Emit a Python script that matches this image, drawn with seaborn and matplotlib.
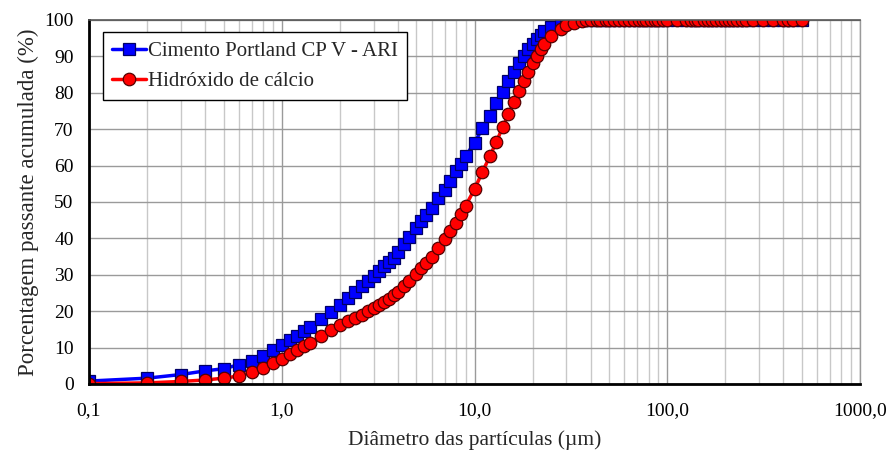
import numpy as np
import pandas as pd
import matplotlib
matplotlib.use("Agg")
import matplotlib.pyplot as plt
from matplotlib.ticker import FixedLocator, FixedFormatter, LogLocator, NullFormatter
import seaborn as sns

# ---- data ----
sizes = [0.1, 0.2, 0.3, 0.4, 0.5, 0.6, 0.7, 0.8, 0.9, 1.0,
         1.1, 1.2, 1.3, 1.4, 1.6, 1.8, 2.0, 2.2, 2.4, 2.6, 2.8, 3.0,
         3.2, 3.4, 3.6, 3.8, 4.0, 4.3, 4.6, 5.0, 5.3, 5.6, 6.0, 6.5,
         7.0, 7.5, 8.0, 8.5, 9.0, 10, 11, 12, 13, 14, 15, 16, 17, 18,
         19, 20, 21, 22, 23, 25, 28, 30, 33, 36, 38, 40, 43, 45, 48,
         50, 53, 56, 60, 63, 67, 71, 75, 78, 82, 86, 90, 95, 100, 112,
         125, 132, 140, 145, 155, 162, 170, 180, 190, 200, 210, 220,
         230, 243, 255, 280, 315, 355, 400, 425, 450, 500]

cimento = [0.8, 1.6, 2.6, 3.6, 4.2, 5.3, 6.3, 7.8, 9.3, 10.7,
           12.0, 13.3, 14.6, 15.7, 17.9, 19.7, 21.8, 23.5, 25.2, 26.8, 28.2, 29.7,
           31.0, 32.3, 33.6, 34.6, 36.2, 38.4, 40.5, 42.8, 44.8, 46.3, 48.4, 51.0,
           53.3, 55.9, 58.5, 60.5, 62.6, 66.3, 70.2, 73.7, 77.2, 80.3, 83.2, 85.8, 88.1, 90.2,
           91.9, 93.3, 94.7, 95.9, 97.0, 98.2, 99.5, 99.8, 100, 100, 100, 100, 100, 100, 100,
           100, 100, 100, 100, 100, 100, 100, 100, 100, 100, 100, 100, 100, 100, 100,
           100, 100, 100, 100, 100, 100, 100, 100, 100, 100, 100, 100,
           100, 100, 100, 100, 100, 100, 100, 100, 100, 100]

hidroxido = [0.1, 0.3, 0.7, 1.1, 1.6, 2.2, 3.2, 4.5, 5.8, 7.0,
             8.2, 9.3, 10.3, 11.3, 13.2, 14.7, 16.2, 17.2, 18.2, 19.0, 20.0, 20.8,
             21.7, 22.5, 23.4, 24.4, 25.3, 26.8, 28.4, 30.3, 32.0, 33.3, 35.0, 37.3,
             39.7, 42.0, 44.3, 46.7, 49.0, 53.5, 58.3, 62.5, 66.6, 70.5, 74.1, 77.6, 80.5, 83.3,
             85.8, 88.1, 90.2, 91.9, 93.5, 95.6, 97.6, 98.7, 99.3, 99.7, 99.9, 100, 100, 100, 100,
             100, 100, 100, 100, 100, 100, 100, 100, 100, 100, 100, 100, 100, 100, 100,
             100, 100, 100, 100, 100, 100, 100, 100, 100, 100, 100, 100,
             100, 100, 100, 100, 100, 100, 100, 100, 100, 100]

series_names = ["Cimento Portland CP V - ARI", "Hidróxido de cálcio"]
x_ticks = [0.1, 1, 10, 100, 1000]
x_labels = ["0,1", "1,0", "10,0", "100,0", "1000,0"]
y_ticks = list(range(0, 101, 10))

df = pd.DataFrame({"d": sizes + sizes,
                   "p": cimento + hidroxido,
                   "s": [series_names[0]] * len(sizes) + [series_names[1]] * len(sizes)})

# ---- style ----
sns.set_style("white")
plt.rcParams["font.family"] = ["Liberation Serif", "DejaVu Serif"]

fig = plt.figure(figsize=(8.89, 4.54), dpi=100)
ax = fig.add_axes([0.1001, 0.1542, 0.8673, 0.8018])

sns.lineplot(data=df[df.s == series_names[0]], x="d", y="p", ax=ax, sort=False,
             color="#0000ff", linewidth=2.5, marker="s", markersize=8.5,
             markerfacecolor="#0000ff", markeredgecolor="#000066", markeredgewidth=0.9,
             label=series_names[0])
sns.lineplot(data=df[df.s == series_names[1]], x="d", y="p", ax=ax, sort=False,
             color="#ff0000", linewidth=2.5, marker="o", markersize=9,
             markerfacecolor="#ff0000", markeredgecolor="#550000", markeredgewidth=0.9,
             label=series_names[1])

ax.set_xscale("log")
ax.set_xlim(0.1, 1000)
ax.set_ylim(0, 100)

ax.xaxis.set_major_locator(FixedLocator(x_ticks))
ax.xaxis.set_major_formatter(FixedFormatter(x_labels))
ax.xaxis.set_minor_locator(LogLocator(base=10, subs=np.arange(2, 10)))
ax.xaxis.set_minor_formatter(NullFormatter())
ax.set_yticks(y_ticks)

ax.grid(True, which="major", axis="both", color="#9a9a9a", linewidth=1.0)
ax.grid(True, which="minor", axis="x", color="#c8c8c8", linewidth=1.0)
ax.set_axisbelow(True)

ax.tick_params(axis="both", which="major", direction="out", length=5, width=1.2,
               labelsize=14, colors="black", pad=6)
ax.tick_params(axis="x", which="minor", length=0)
ax.tick_params(axis="x", which="major", pad=8)

for side in ["left", "bottom"]:
    ax.spines[side].set_color("black")
    ax.spines[side].set_linewidth(2.0)
ax.spines["top"].set_color("#555555")
ax.spines["top"].set_linewidth(1.2)
ax.spines["right"].set_color("#9a9a9a")
ax.spines["right"].set_linewidth(1.0)

ax.set_xlabel("Diâmetro das partículas (µm)", fontsize=15.5, labelpad=8)
ax.set_ylabel("Porcentagem passante acumulada (%)", fontsize=16.5, labelpad=4)

leg = ax.legend(loc="upper left", bbox_to_anchor=(0.018, 0.967), fontsize=15,
                frameon=True, fancybox=False, edgecolor="black", framealpha=1,
                handlelength=1.6, handletextpad=0.1, borderpad=0.45, labelspacing=0.5,
                borderaxespad=0)
leg.get_frame().set_linewidth(1.0)

fig.savefig("out.png", dpi=100)
